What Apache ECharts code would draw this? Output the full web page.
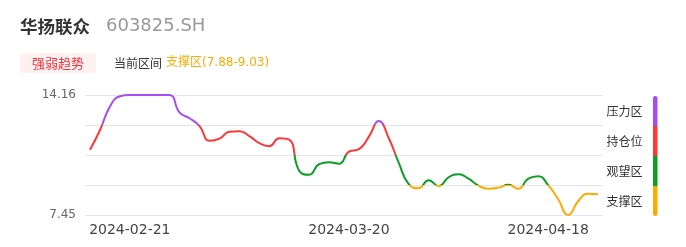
<!DOCTYPE html>
<html><head><meta charset="utf-8">
<script src="https://cdn.jsdelivr.net/npm/echarts@6/dist/echarts.min.js"></script>
<style>html,body{margin:0;padding:0;background:#fff;}#c{width:686px;height:247px;}</style>
</head><body><div id="c"></div>
<script>
var dates = ['2024-02-15','2024-02-16','2024-02-19','2024-02-20','2024-02-21','2024-02-22','2024-02-23','2024-02-26','2024-02-27','2024-02-28',
'2024-02-29','2024-03-01','2024-03-02','2024-03-04','2024-03-05','2024-03-06','2024-03-07','2024-03-08','2024-03-09','2024-03-11',
'2024-03-12','2024-03-13','2024-03-14','2024-03-15','2024-03-18','2024-03-19','2024-03-20','2024-03-21','2024-03-22','2024-03-25',
'2024-03-26','2024-03-27','2024-03-28','2024-03-29','2024-04-01','2024-04-02','2024-04-03','2024-04-07','2024-04-08','2024-04-09',
'2024-04-10','2024-04-11','2024-04-12','2024-04-15','2024-04-16','2024-04-17','2024-04-18','2024-04-19','2024-04-22','2024-04-23',
'2024-04-24','2024-04-25'];
var values = [11.10,12.19,13.51,14.09,14.16,14.16,14.16,14.16,14.16,13.17,
12.86,12.42,11.60,11.72,12.11,12.14,11.86,11.47,11.30,11.74,
11.66,9.93,9.70,10.29,10.40,10.32,10.99,11.13,11.83,12.70,
11.74,10.37,9.17,8.95,9.40,9.06,9.56,9.73,9.48,9.09,
8.92,8.98,9.14,8.92,9.48,9.62,9.12,8.33,7.45,8.22,
8.64,8.61];
var xTickLabels = ['2024-02-21','2024-03-20','2024-04-18'];
var yMin = 7.45, yMax = 14.16;
var zoneNames = ['压力区','持仓位','观望区','支撑区'];
var zoneColors = ['#A54DF2','#FF3636','#0D9E24','#FFAA00'];

var step = (yMax - yMin) / 4;
var chart = echarts.init(document.getElementById('c'));
var latin = 'DejaVu Sans, Noto Sans CJK SC, sans-serif';
var graphics = [
  {type:'text', left:20, top:18, style:{text:'华扬联众', font:'bold 17.5px Noto Sans CJK SC, sans-serif', fill:'#333'}},
  {type:'text', left:106, top:17, style:{text:'603825.SH', font:'18px DejaVu Sans, sans-serif', fill:'#999'}},
  {type:'rect', shape:{x:20,y:53,width:76,height:20}, style:{fill:'#FFF1EF'}},
  {type:'text', x:58, y:63, style:{text:'强弱趋势', font:'13px Noto Sans CJK SC, sans-serif', fill:'#F5333F', textAlign:'center', textVerticalAlign:'middle'}},
  {type:'text', x:114, y:63, style:{text:'当前区间', font:'12px Noto Sans CJK SC, sans-serif', fill:'#333', textVerticalAlign:'middle'}},
  {type:'text', x:166, y:63, style:{text:'支撑区(7.88-9.03)', font:'12px ' + latin, fill:'#FFAA00', textVerticalAlign:'middle'}}
];
for (var k = 0; k < 4; k++) {
  var r = k === 0 ? [2.5,2.5,0,0] : (k === 3 ? [0,0,2.5,2.5] : 0);
  graphics.push({type:'rect', shape:{x:653, y:96 + k*30, width:4.5, height:30, r:r}, style:{fill:zoneColors[k]}});
  graphics.push({type:'text', x:624.5, y:111 + k*30, style:{text:zoneNames[k], font:'12px Noto Sans CJK SC, sans-serif', fill:'#333', textAlign:'center', textVerticalAlign:'middle'}});
}

chart.setOption({
  animation:false,
  grid:{left:85, right:83, top:95, bottom:32},
  xAxis:{type:'category', data:dates, boundaryGap:true,
    axisLine:{show:false}, axisTick:{show:false},
    axisLabel:{interval:function(i, v){ return xTickLabels.indexOf(v) >= 0; }, color:'#444', fontSize:14, fontFamily:latin, margin:8}},
  yAxis:{type:'value', min:yMin, max:yMax, interval:step,
    axisLine:{show:false}, axisTick:{show:false},
    splitLine:{lineStyle:{color:'#E0E6F1'}},
    axisLabel:{color:'#666', fontSize:12, fontFamily:latin, margin:9,
      formatter:function(v){ return (Math.abs(v-yMin)<1e-6 || Math.abs(v-yMax)<1e-6) ? v.toFixed(2) : ''; }}},
  visualMap:{type:'piecewise', show:false, dimension:1, seriesIndex:0,
    pieces:[
      {gte:yMin+3*step, color:zoneColors[0]},
      {gte:yMin+2*step, lt:yMin+3*step, color:zoneColors[1]},
      {gte:yMin+step, lt:yMin+2*step, color:zoneColors[2]},
      {lt:yMin+step, color:zoneColors[3]}
    ]},
  series:[{type:'line', data:values, smooth:true, showSymbol:false, lineStyle:{width:2}}],
  graphic:graphics
});
</script></body></html>
